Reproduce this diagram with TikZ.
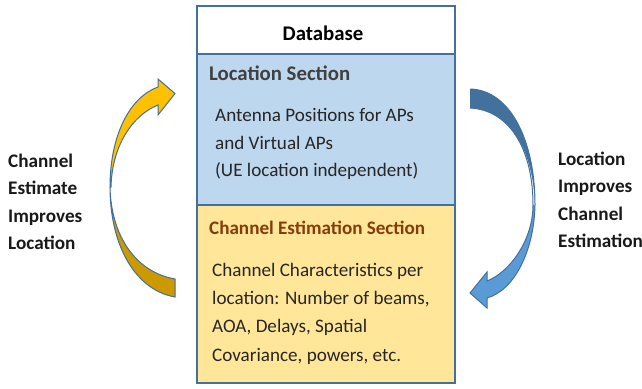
\documentclass[tikz,border=0pt]{standalone}
\usepackage{fontspec}
\setmainfont{Carlito}
\definecolor{edge}{HTML}{41719C}
\definecolor{bluefill}{HTML}{BDD7EE}
\definecolor{yellowfill}{HTML}{FFE699}
\definecolor{sectbrown}{HTML}{843C0C}
\definecolor{sectgray}{HTML}{404040}
\definecolor{arrowgold}{HTML}{FFC000}
\definecolor{arrowgolddark}{HTML}{CC9900}
\definecolor{arrowblue}{HTML}{5B9BD5}
\definecolor{arrowbluedark}{HTML}{41719C}
\tikzset{
  panel/.style={draw=edge,line width=1.6pt,anchor=north west,inner sep=0pt},
  side/.style={font=\fontsize{19.2}{27.4}\selectfont\bfseries,align=left,anchor=west,inner sep=0pt,text=black!90},
  body/.style={font=\fontsize{19.1}{27.7}\selectfont,align=left,anchor=north west,inner sep=0pt,text=black!85},
  bodywide/.style={body,font=\fontsize{19.1}{28.2}\selectfont},
  curved/.style={draw=edge,line width=1pt,line join=miter}
}
\begin{document}
\begin{tikzpicture}[x=1pt,y=-1pt]
\useasboundingbox (0,0) rectangle (642,388);
\node[panel,fill=white,minimum width=258pt,minimum height=48pt] (db) at (196,5) {};
\node[panel,fill=bluefill,minimum width=258pt,minimum height=151pt] (loc) at (196,53) {};
\node[panel,fill=yellowfill,minimum width=258pt,minimum height=178pt] (chan) at (196,204) {};
\node[font=\fontsize{20.8}{24}\selectfont\bfseries] (dbt) at (323,33) {Database};
\node[font=\fontsize{20.8}{24}\selectfont\bfseries,text=sectgray,anchor=west,inner sep=0pt] (loct) at (209,73) {Location Section};
\node[font=\fontsize{19.1}{24}\selectfont\bfseries,text=sectbrown,anchor=west,inner sep=0pt] (chant) at (209,228) {Channel Estimation Section};
\node[body] (locb) at (215,108) {Antenna Positions for APs\\and Virtual APs\\(UE location independent)};
\node[bodywide] (chanb) at (212,263) {Channel Characteristics per\\location: Number of beams,\\AOA, Delays, Spatial\\Covariance, powers, etc.};
\node[side] (lt) at (8,202) {Channel\\Estimate\\Improves\\Location};
\node[side] (rt) at (558,200) {Location\\Improves\\Channel\\Estimation};
% left arrow
\fill[arrowgolddark] (175,297) .. controls (135,290) and (110,245) .. (110,187)
  .. controls (111,235) and (135,272) .. (175,279) -- cycle;
\draw[curved] (175,297) .. controls (135,290) and (110,245) .. (110,187)
  .. controls (111,235) and (135,272) .. (175,279) -- cycle;
\fill[arrowgold] (110,187) .. controls (110,135) and (130,97) .. (158,87) -- (158,79) -- (175,93.5) -- (158,115) -- (158,105)
  .. controls (133,115) and (112,145) .. (111,187) -- cycle;
\draw[curved] (110,187) .. controls (110,135) and (130,97) .. (158,87) -- (158,79) -- (175,93.5) -- (158,115) -- (158,105)
  .. controls (133,115) and (112,145) .. (111,187) -- cycle;
% right arrow
\fill[arrowbluedark] (470,89) .. controls (510,90) and (535,140) .. (535,205)
  .. controls (533,150) and (510,110) .. (470,108) -- cycle;
\fill[arrowblue] (535,205) .. controls (534,250) and (515,290) .. (487,298) -- (487,308) -- (470,293) -- (487,272) -- (487,281)
  .. controls (510,272) and (533,240) .. (533,205) -- cycle;
\draw[curved] (470,89) .. controls (510,90) and (535,140) .. (535,205)
  .. controls (534,250) and (515,290) .. (487,298) -- (487,308) -- (470,293) -- (487,272) -- (487,281)
  .. controls (510,272) and (533,240) .. (533,205) .. controls (533,150) and (510,110) .. (470,108);
\end{tikzpicture}
\end{document}
